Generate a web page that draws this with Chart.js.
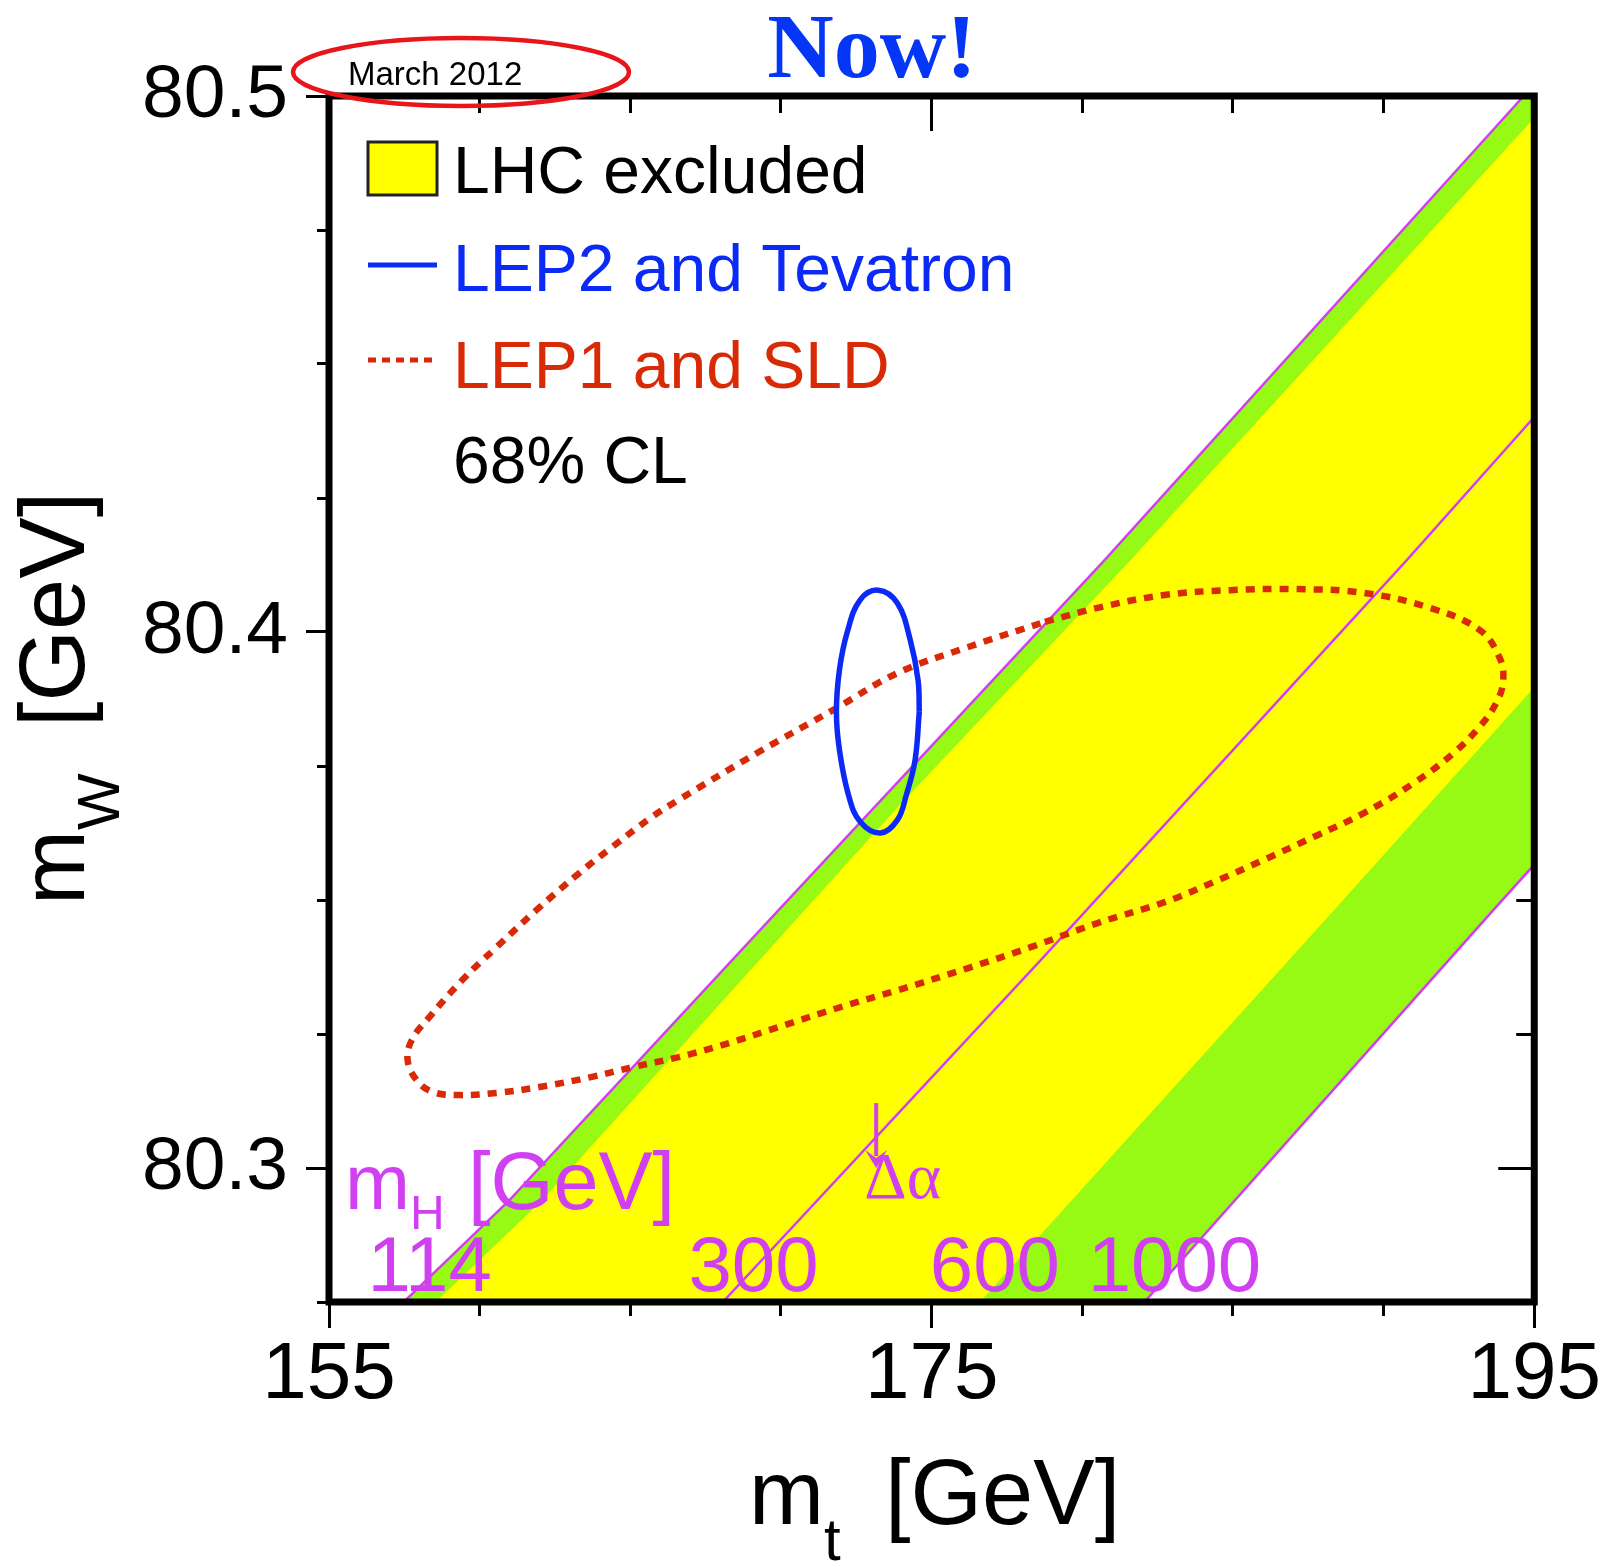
<!DOCTYPE html>
<html>
<head>
<meta charset="utf-8">
<title>mW vs mt</title>
<script src="https://cdn.jsdelivr.net/npm/chart.js@4.4.1/dist/chart.umd.min.js"></script>
<style>
  body { margin: 0; background: #ffffff; }
  canvas { display: block; }
</style>
</head>
<body>
<canvas id="mwCanvas" width="1613" height="1567"></canvas>
<script>
// axis ranges and ticks
const mtRange = [155, 195];
const mwRange = [80.275, 80.5];
const mtTicks = [155, 160, 165, 170, 175, 180, 185, 190, 195];
const mtLabelTicks = [155, 175, 195];
const mwTicks = [80.275, 80.3, 80.325, 80.35, 80.375, 80.4, 80.425, 80.45, 80.475, 80.5];
const mwLabelTicks = [80.3, 80.4, 80.5];

// SM prediction edges, [mt, mW]
const line114 = [[157.48, 80.275], [160.99, 80.294], [169.92, 80.3481], [180.74, 80.4134], [194.65, 80.5]];
const lhcLowEdge = [[158.54, 80.275], [162.08, 80.294], [173.89, 80.3674], [181.6, 80.4134], [195, 80.4959]];
const line300 = [[168.07, 80.275], [178.62, 80.3388], [190.77, 80.4134], [195, 80.4401]];
const lhcHighEdge = [[176.6, 80.275], [188.35, 80.3481], [195, 80.3897]];
const line1000 = [[182.06, 80.275], [193.64, 80.3481], [195, 80.3566]];

// 68% CL contours, [mt, mW]
const lep2Tevatron = [
  [174.59, 80.3851], [174.45, 80.3761], [174.16, 80.3696], [173.86, 80.3649], [173.30, 80.3625],
  [172.63, 80.3646], [172.24, 80.3696], [171.94, 80.3780], [171.84, 80.3851], [171.94, 80.3929],
  [172.20, 80.4000], [172.63, 80.4060], [173.23, 80.4078], [173.86, 80.4054], [174.29, 80.3985],
  [174.55, 80.3910], [174.59, 80.3851]
];
const lep1Sld = [
  [178.76, 80.4019], [180.51, 80.4045], [182.73, 80.4069], [184.91, 80.4078], [187.13, 80.4080],
  [189.34, 80.4073], [191.53, 80.4045], [193.18, 80.4004], [193.84, 80.3953], [193.97, 80.3910],
  [193.74, 80.3868], [193.18, 80.3823], [192.32, 80.3774], [191.00, 80.3718], [189.34, 80.3662],
  [187.69, 80.3618], [186.03, 80.3575], [184.38, 80.3534], [182.73, 80.3496], [180.51, 80.3457],
  [178.29, 80.3412], [176.21, 80.3373], [173.89, 80.3332], [171.91, 80.3299], [169.92, 80.3263],
  [168.27, 80.3233], [166.61, 80.3207], [165.06, 80.3188], [163.73, 80.3170], [161.98, 80.3151],
  [160.56, 80.3140], [159.33, 80.3136], [158.44, 80.3142], [157.91, 80.3164], [157.61, 80.3201],
  [157.75, 80.3239], [158.34, 80.3282], [159.43, 80.3351], [160.56, 80.3412], [161.88, 80.3481],
  [163.30, 80.3550], [164.40, 80.3599], [165.72, 80.3655], [166.61, 80.3687], [169.26, 80.3776],
  [171.84, 80.3858], [173.89, 80.3924], [176.11, 80.3970], [178.76, 80.4019]
];

// Higgs mass labels along the bottom
const higgsMassLabels = ['114', '300', '600', '1000'];
const higgsLabelMt = [158.34, 169.09, 177.10, 183.06];
const higgsLabelMw = 80.2771;
// delta alpha arrow (mt, mW from, mW to)
const deltaAlphaArrow = [173.16, 80.3121, 80.3000];

const green = '#96fa14';
const yellow = '#ffff00';
const magenta = '#d040f0';
const blue = '#0b2af5';
const red = '#d92a08';

const toXY = pts => pts.map(p => ({x: p[0], y: p[1]}));

const greenBand = toXY(line114.concat([[mtRange[1], mwRange[1]]], line1000.slice().reverse()));
const yellowBand = toXY(lhcLowEdge.concat(lhcHighEdge.slice().reverse()));

function tickAxis(dir, position, weight, values, tickLength, size, tickWidth, labelOpts) {
  const horiz = dir === 'x';
  return {
    type: 'linear',
    axis: dir,
    position: position,
    weight: weight,
    min: horiz ? mtRange[0] : mwRange[0],
    max: horiz ? mtRange[1] : mwRange[1],
    afterBuildTicks: s => { s.ticks = values.map(v => ({value: v})); },
    afterFit: s => { if (horiz) s.height = size; else s.width = size; },
    border: {display: false},
    grid: {drawOnChartArea: false, drawTicks: true, tickLength: tickLength, tickWidth: tickWidth, tickColor: '#000'},
    ticks: labelOpts || {display: false}
  };
}

const isMajor = (list, v) => list.some(m => Math.abs(m - v) < 1e-6);

const decorations = {
  id: 'decorations',
  afterDatasetsDraw(chart) {
    const c = chart.ctx;
    const a = chart.chartArea;
    const xs = chart.scales.x;
    const ys = chart.scales.y;
    c.save();

    // mH labels
    c.fillStyle = magenta;
    c.textBaseline = 'alphabetic';
    c.textAlign = 'center';
    c.font = '78px "Liberation Sans"';
    higgsMassLabels.forEach((t, i) => {
      c.fillText(t, xs.getPixelForValue(higgsLabelMt[i]), ys.getPixelForValue(higgsLabelMw));
    });
    c.textAlign = 'left';
    c.font = '78px "Liberation Sans"';
    c.fillText('m', a.left + 16, a.bottom - 93);
    let w = c.measureText('m').width;
    c.font = '48px "Liberation Sans"';
    c.fillText('H', a.left + 16 + w, a.bottom - 73);
    c.font = '81px "Liberation Sans"';
    c.fillText('[GeV]', a.left + 139, a.bottom - 93);

    // delta alpha arrow
    const ax = xs.getPixelForValue(deltaAlphaArrow[0]);
    const ay0 = ys.getPixelForValue(deltaAlphaArrow[1]);
    const ay1 = ys.getPixelForValue(deltaAlphaArrow[2]);
    c.strokeStyle = magenta;
    c.lineWidth = 4;
    c.beginPath();
    c.moveTo(ax, ay0);
    c.lineTo(ax, ay1 - 12);
    c.stroke();
    c.beginPath();
    c.moveTo(ax - 11, ay1 - 18);
    c.lineTo(ax, ay1);
    c.lineTo(ax + 11, ay1 - 18);
    c.lineTo(ax, ay1 - 10);
    c.closePath();
    c.fill();
    c.font = '66px "Liberation Serif"';
    c.fillText('\u0394\u03b1', ax - 12, ay1 + 30);

    // frame
    c.strokeStyle = '#000';
    c.lineWidth = 7;
    c.strokeRect(a.left, a.top, a.right - a.left, a.bottom - a.top);

    // legend
    const lx = a.left + 39;
    c.fillStyle = yellow;
    c.fillRect(lx, a.top + 46, 69, 53);
    c.lineWidth = 3;
    c.strokeStyle = '#222';
    c.strokeRect(lx, a.top + 46, 69, 53);
    c.strokeStyle = blue;
    c.lineWidth = 5;
    c.beginPath();
    c.moveTo(lx, a.top + 169);
    c.lineTo(lx + 69, a.top + 169);
    c.stroke();
    c.strokeStyle = red;
    c.lineWidth = 5;
    c.setLineDash([8, 6]);
    c.beginPath();
    c.moveTo(lx, a.top + 264);
    c.lineTo(lx + 69, a.top + 264);
    c.stroke();
    c.setLineDash([]);
    c.font = '66px "Liberation Sans"';
    c.fillStyle = '#000';
    c.fillText('LHC excluded', a.left + 124, a.top + 97);
    c.fillStyle = blue;
    c.fillText('LEP2 and Tevatron', a.left + 124, a.top + 195);
    c.fillStyle = red;
    c.fillText('LEP1 and SLD', a.left + 124, a.top + 292);
    c.fillStyle = '#000';
    c.fillText('68% CL', a.left + 124, a.top + 387);
    c.restore();
  },
  afterDraw(chart) {
    const c = chart.ctx;
    c.save();
    c.fillStyle = '#000';
    c.textBaseline = 'alphabetic';
    c.textAlign = 'left';

    // x title
    c.font = '90px "Liberation Sans"';
    c.fillText('m', 749, 1524);
    let w = c.measureText('m').width;
    c.font = '60px "Liberation Sans"';
    c.fillText('t', 749 + w, 1560);
    c.font = '92px "Liberation Sans"';
    c.fillText('[GeV]', 885, 1524);

    // y title
    c.save();
    c.translate(84, 905);
    c.rotate(-Math.PI / 2);
    c.font = '90px "Liberation Sans"';
    c.fillText('m', 0, 0);
    w = c.measureText('m').width;
    c.font = '60px "Liberation Sans"';
    c.fillText('W', w, 35);
    c.font = '92px "Liberation Sans"';
    c.fillText('[GeV]', 178, 0);
    c.restore();

    // headline
    c.textAlign = 'center';
    c.fillStyle = '#0535f5';
    c.font = 'bold 92px "Liberation Serif"';
    c.fillText('Now!', 872, 77);

    // date stamp
    c.textAlign = 'left';
    c.fillStyle = '#000';
    c.font = '33px "Liberation Sans"';
    c.fillText('March 2012', 348, 85);
    c.strokeStyle = '#e8161b';
    c.lineWidth = 4.5;
    c.beginPath();
    c.ellipse(461, 72, 168, 34, 0, 0, Math.PI * 2);
    c.stroke();
    c.restore();
  }
};

const mwChart = new Chart(document.getElementById('mwCanvas'), {
  type: 'line',
  data: {
    datasets: [
      {label: 'SM band', data: greenBand, fill: 'shape', backgroundColor: green, borderWidth: 0, pointRadius: 0, order: 6},
      {label: 'LHC excluded', data: yellowBand, fill: 'shape', backgroundColor: yellow, borderWidth: 0, pointRadius: 0, order: 5},
      {label: 'mH 114', data: toXY(line114), borderColor: magenta, borderWidth: 2.5, pointRadius: 0, fill: false, order: 4},
      {label: 'mH 300', data: toXY(line300), borderColor: magenta, borderWidth: 2.5, pointRadius: 0, fill: false, order: 4},
      {label: 'mH 1000', data: toXY(line1000), borderColor: magenta, borderWidth: 2.5, pointRadius: 0, fill: false, order: 4},
      {label: 'LEP1 and SLD', data: toXY(lep1Sld), borderColor: red, borderWidth: 6.5, borderDash: [9, 8],
        tension: 0.4, pointRadius: 0, fill: false, order: 2},
      {label: 'LEP2 and Tevatron', data: toXY(lep2Tevatron), borderColor: blue, borderWidth: 5.5,
        tension: 0.4, pointRadius: 0, fill: false, order: 1}
    ]
  },
  options: {
    responsive: false,
    animation: false,
    devicePixelRatio: 1,
    events: [],
    layout: {padding: 0, autoPadding: false},
    plugins: {legend: {display: false}, tooltip: {enabled: false}},
    scales: {
      x: tickAxis('x', 'bottom', 1, mtTicks, 14, 265, 3, {
        autoSkip: false, maxRotation: 0, padding: 12, color: '#000',
        font: {family: 'Liberation Sans', size: 80},
        callback: v => isMajor(mtLabelTicks, v) ? String(v) : ''
      }),
      xMajor: tickAxis('x', 'bottom', 0, mtLabelTicks, 26, 0, 3),
      xTop: tickAxis('x', 'top', 1, mtTicks, -17, 96, 3),
      xTopMajor: tickAxis('x', 'top', 0, [175], -35, 0, 3),
      y: tickAxis('y', 'left', 1, mwTicks, 12, 329, 3, {
        autoSkip: false, padding: 29, color: '#000',
        font: {family: 'Liberation Sans', size: 75},
        callback: v => isMajor(mwLabelTicks, v) ? v.toFixed(1) : ''
      }),
      yMajor: tickAxis('y', 'left', 0, mwLabelTicks, 23, 0, 3),
      yRight: tickAxis('y', 'right', 1, mwTicks, -18, 75, 3),
      yRightMajor: tickAxis('y', 'right', 0, mwLabelTicks, -36, 0, 3)
    }
  },
  plugins: [decorations]
});
</script>
</body>
</html>
